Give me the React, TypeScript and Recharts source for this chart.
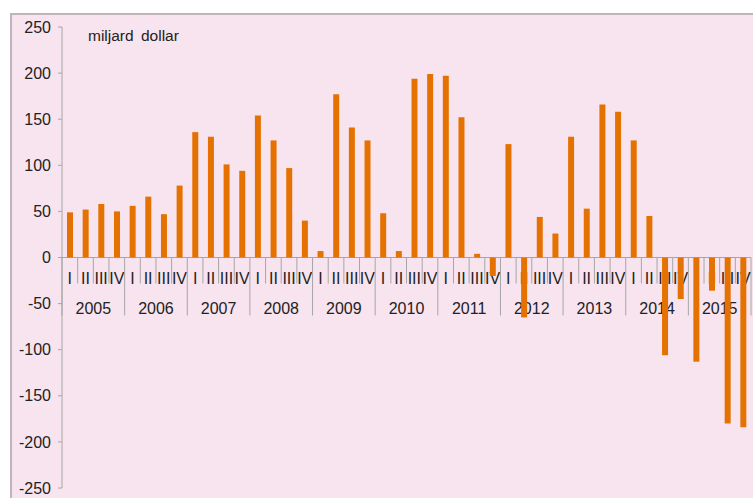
import React from 'react';
import { BarChart, Bar, XAxis, YAxis, ReferenceLine } from 'recharts';

const years = ['2005', '2006', '2007', '2008', '2009', '2010', '2011', '2012', '2013', '2014', '2015'];
const quarters = ['I', 'II', 'III', 'IV'];
// miljard dollar, one value per quarter 2005 I .. 2015 IV
const values = [
    49, 52, 58, 50,
    56, 66, 47, 78,
    136, 131, 101, 94,
    154, 127, 97, 40,
    7, 177, 141, 127,
    48, 7, 194, 199,
    197, 152, 4, -20,
    123, -65, 44, 26,
    131, 53, 166, 158,
    127, 45, -106, -45,
    -113, -36, -180, -184,
];
const yTicks = [-250, -200, -150, -100, -50, 0, 50, 100, 150, 200, 250];

const data = values.map((value, i) => ({
    key: `${years[Math.floor(i / 4)]} ${quarters[i % 4]}`,
    year: years[Math.floor(i / 4)],
    q: quarters[i % 4],
    value,
}));

const W = 743;
const H = 485;
const X_AXIS_H = 1;
const MARGIN = { top: 14, right: 2, bottom: 9, left: 0 };
const PLOT_H = H - MARGIN.top - MARGIN.bottom - X_AXIS_H;
const FONT = '"Liberation Sans", Arial, sans-serif';
const GRID = '#A6A6A6';

const QuarterTick = (props: any) => {
    const { y, payload } = props;
    const i = payload?.index ?? props.index;
    const row = data[i];
    if (!row) return null;
    const half = payload.offset || 7.8;
    const cx = payload.coordinate ?? props.x;
    const left = cx - half;
    const right = cx + half;
    // symmetric domain: zero line sits mid plot
    const zeroY = y - PLOT_H / 2;
    const yearStart = row.q === 'I';
    return (
        <g>
            <line x1={left} x2={left} y1={zeroY} y2={zeroY + (yearStart ? 58 : 26)} stroke={GRID} />
            {i === data.length - 1 && (
                <line x1={right} x2={right} y1={zeroY} y2={zeroY + 58} stroke={GRID} />
            )}
            <text x={cx} y={zeroY + 26} textAnchor="middle" fontSize={16} fill="#222" fontFamily={FONT}>
                {row.q}
            </text>
            {yearStart && (
                <text x={left + half * 4} y={zeroY + 56} textAnchor="middle" fontSize={16} fill="#222" fontFamily={FONT}>
                    {row.year}
                </text>
            )}
        </g>
    );
};

export default function App() {
    return (
        <div
            style={{
                position: 'absolute',
                left: 10,
                top: 13,
                width: W,
                height: H,
                background: '#F7E4EF',
                boxShadow: 'inset 2px 2px 0 #BDB5BA',
                fontFamily: FONT,
            }}
        >
            <div
                style={{
                    position: 'absolute',
                    left: 78,
                    top: 14,
                    fontSize: 15.5,
                    color: '#222',
                    wordSpacing: 3,
                }}
            >
                miljard dollar
            </div>
            <BarChart width={W} height={H} data={data} margin={MARGIN} barSize={6}>
                <XAxis
                    dataKey="key"
                    height={X_AXIS_H}
                    axisLine={false}
                    tickLine={false}
                    tickSize={0}
                    tickMargin={0}
                    interval={0}
                    tick={(p: any) => <QuarterTick {...p} />}
                />
                <YAxis
                    domain={[-250, 250]}
                    ticks={yTicks}
                    width={52}
                    tickSize={4}
                    tickMargin={7}
                    axisLine={{ stroke: GRID }}
                    tickLine={{ stroke: GRID }}
                    tick={{ fill: '#222', fontSize: 16, fontFamily: FONT }}
                />
                <ReferenceLine y={0} stroke={GRID} />
                <Bar dataKey="value" fill="#E57200" isAnimationActive={false} {...({ zIndex: 2000 } as any)} />
            </BarChart>
        </div>
    );
}
